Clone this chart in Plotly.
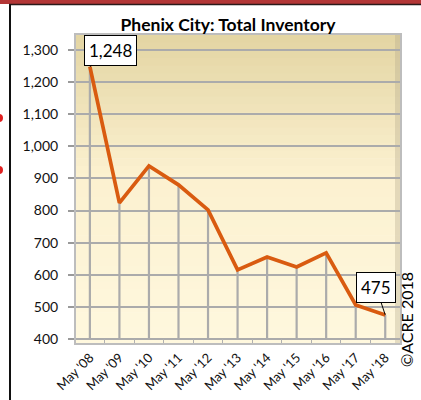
import plotly.graph_objects as go

categories = ["May '08", "May '09", "May '10", "May '11", "May '12", "May '13",
              "May '14", "May '15", "May '16", "May '17", "May '18"]
inventory = [1248, 824, 939, 880, 802, 615, 655, 624, 668, 506, 475]
y_ticks = [400, 500, 600, 700, 800, 900, 1000, 1100, 1200, 1300]
y_tick_labels = ["400", "500", "600", "700", "800", "900", "1,000", "1,100", "1,200", "1,300"]
title_text = "Phenix City: Total Inventory"
copyright_text = "©ACRE 2018"
axis_floor = 400

W, H = 421, 400
L, R, T, B = 76, 21, 35, 57
PW, PH = W - L - R, H - T - B

def px(p):
    return (p - L) / PW

def py(p):
    return (H - B - p) / PH

font = "Lato, 'Liberation Sans', sans-serif"

fig = go.Figure()

# drop lines from each point to the floor
fig.add_trace(go.Scatter(
    x=categories, y=inventory, mode="markers",
    marker=dict(size=0.1, color="rgba(0,0,0,0)"),
    error_y=dict(type="data", symmetric=False,
                 array=[0] * len(inventory),
                 arrayminus=[v - axis_floor for v in inventory],
                 color="#ababab", thickness=2.2, width=0),
    hoverinfo="skip", showlegend=False,
))

fig.add_trace(go.Scatter(
    x=categories, y=inventory, mode="lines",
    line=dict(color="#d95b10", width=3.7),
    showlegend=False,
))

shapes = []
# gradient background bands
n = 40
top = (228, 214, 164)
mid = (252, 241, 208)
bot = (255, 248, 222)
for i in range(n):
    f = i / (n - 1)
    if f < 0.45:
        g = f / 0.45
        c = tuple(int(top[k] + (mid[k] - top[k]) * g) for k in range(3))
    else:
        g = (f - 0.45) / 0.55
        c = tuple(int(mid[k] + (bot[k] - mid[k]) * g) for k in range(3))
    y1 = 1 - i / n
    y0 = 1 - (i + 1) / n
    shapes.append(dict(type="rect", xref="paper", yref="paper", x0=0, x1=1,
                       y0=y0 - 0.002, y1=y1, fillcolor="rgb(%d,%d,%d)" % c,
                       line=dict(width=0), layer="below"))
# right wall shading
shapes.append(dict(type="rect", xref="paper", yref="paper", x0=px(395), x1=1,
                   y0=0, y1=1, fillcolor="rgba(180,170,140,0.35)",
                   line=dict(width=0), layer="below"))
# top red band and frame
shapes.append(dict(type="rect", xref="paper", yref="paper", x0=px(-5), x1=px(425),
                   y0=py(4), y1=py(-2), fillcolor="#b33636", line=dict(width=0)))
shapes.append(dict(type="line", xref="paper", yref="paper", x0=px(9), x1=px(425),
                   y0=py(4.5), y1=py(4.5), line=dict(color="#2a1a1a", width=1.5)))
shapes.append(dict(type="line", xref="paper", yref="paper", x0=px(10), x1=px(10),
                   y0=py(4.5), y1=py(402), line=dict(color="#111111", width=2)))
for cy in (118, 170):
    shapes.append(dict(type="circle", xref="paper", yref="paper",
                       x0=px(-5), x1=px(3), y0=py(cy + 4), y1=py(cy - 4),
                       fillcolor="#e02020", line=dict(width=0)))

annotations = [
    dict(x=categories[0], y=inventory[0], text="1,248", showarrow=True,
         arrowhead=0, arrowwidth=1, arrowcolor="#000", ax=21, ay=-16,
         bgcolor="white", bordercolor="#000", borderwidth=1, borderpad=4,
         font=dict(family=font, size=17, color="#000")),
    dict(x=categories[-1], y=inventory[-1], text="475", showarrow=True,
         arrowhead=0, arrowwidth=1, arrowcolor="#000", ax=-9, ay=-27,
         bgcolor="white", bordercolor="#000", borderwidth=1, borderpad=4,
         font=dict(family=font, size=17, color="#000")),
    dict(xref="paper", yref="paper", x=px(406), y=py(320), xanchor="center",
         yanchor="middle", text=copyright_text,
         showarrow=False, textangle=-90, font=dict(family=font, size=16, color="#000")),
]

fig.update_layout(
    width=W, height=H,
    margin=dict(l=L, r=R, t=T, b=B, autoexpand=False),
    paper_bgcolor="white",
    plot_bgcolor="rgba(0,0,0,0)",
    title=dict(text="<b>%s</b>" % title_text, xref="paper", x=px(228),
               xanchor="center", yref="container", y=1 - 25 / H, yanchor="middle",
               font=dict(family=font, size=17.5, color="#000")),
    shapes=shapes,
    annotations=annotations,
    showlegend=False,
    xaxis=dict(type="category", range=[-0.47, 10.5], showgrid=False, automargin=False,
               tickangle=-45, tickfont=dict(family=font, size=13, color="#111"),
               ticks="inside", tickson="boundaries", ticklen=4, tickcolor="#b0b0b0",
               showline=True, linecolor="#bdbdbd", linewidth=2, mirror=True,
               zeroline=False, fixedrange=True),
    yaxis=dict(range=[387.5, 1346.5], tickvals=y_ticks, ticktext=y_tick_labels,
               showgrid=True, gridcolor="#ababab", gridwidth=2, automargin=False,
               ticks="outside", ticklen=6, tickcolor="#9a9a9a", tickwidth=1.5,
               tickfont=dict(family=font, size=14, color="#111"),
               ticklabelstandoff=7,
               showline=True, linecolor="#bdbdbd", linewidth=2, mirror=True,
               zeroline=False, fixedrange=True),
)

fig.write_html("out.html", config={"displayModeBar": False},
               post_script="document.body.style.margin='0';document.body.style.overflow='hidden';")
